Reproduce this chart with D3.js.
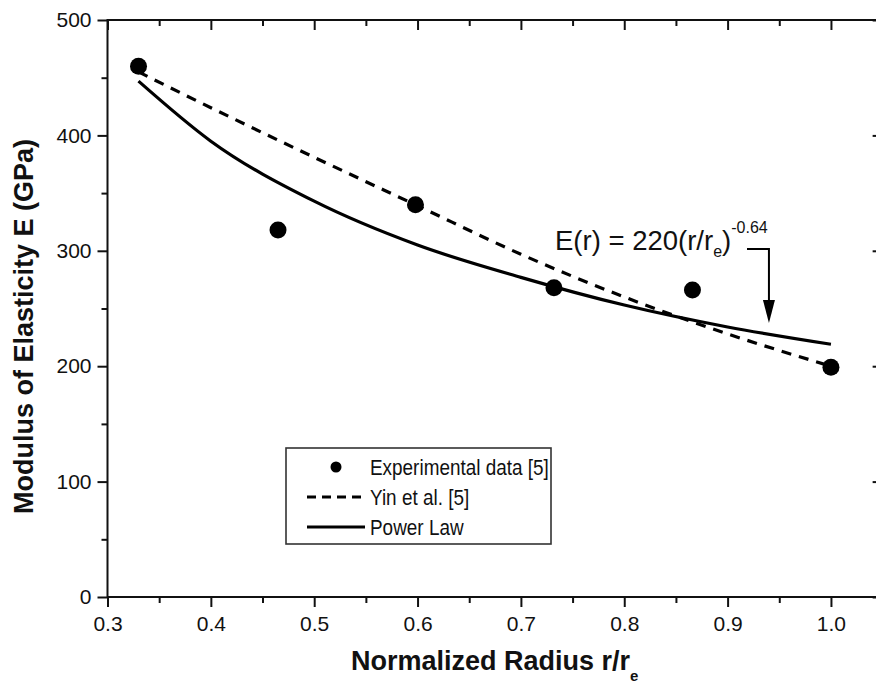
<!DOCTYPE html>
<html>
<head>
<meta charset="utf-8">
<script src="https://cdn.jsdelivr.net/npm/d3@7"></script>
<style>
  html, body { margin: 0; padding: 0; background: #fff; }
  svg { display: block; }
  text { font-family: "Liberation Sans", Arial, sans-serif; fill: #111; }
</style>
</head>
<body>
<script>
// ---- data ----
const expX = [0.33, 0.465, 0.598, 0.732, 0.866, 1.0];
const expE = [460, 318, 340, 268, 266, 199];

const yinX = [0.33, 0.40, 0.50, 0.60, 0.70, 0.80, 0.90, 1.00];
const yinE = [455, 424, 381, 339, 297, 260, 228, 200];

const powX = [0.33, 0.40, 0.50, 0.60, 0.70, 0.80, 0.90, 1.00];
const powE = [447, 395, 343, 305, 277, 253, 234, 219];

const xTicks = [0.3, 0.4, 0.5, 0.6, 0.7, 0.8, 0.9, 1.0];
const yTicks = [0, 100, 200, 300, 400, 500];
const legendLabels = ["Experimental data [5]", "Yin et al. [5]", "Power Law"];

// ---- layout ----
const W = 876, H = 689;
const L = 107.5, T = 20, B = 597;
const x = d3.scaleLinear().domain([0.3, 1.05]).range([L, L + 1033.5 * 0.75]);
const y = d3.scaleLinear().domain([0, 500]).range([B, T]);
const R = x(1.05);

const svg = d3.select("body").append("svg").attr("width", W).attr("height", H);

// frame
svg.append("rect").attr("x", L).attr("y", T).attr("width", R - L).attr("height", B - T)
  .attr("fill", "none").attr("stroke", "#111").attr("stroke-width", 2);

const xMinor = d3.range(0.35, 1.05, 0.1);
const yMinor = d3.range(50, 500, 100);

function fmtX(d) { return d3.format(".1f")(d); }

const gBottom = svg.append("g").attr("transform", `translate(0,${B})`)
  .call(d3.axisBottom(x).tickValues(xTicks).tickFormat(fmtX).tickSize(10).tickPadding(9));
const gBottomMinor = svg.append("g").attr("transform", `translate(0,${B})`)
  .call(d3.axisBottom(x).tickValues(xMinor).tickFormat("").tickSize(6));
const gTop = svg.append("g").attr("transform", `translate(0,${T})`)
  .call(d3.axisBottom(x).tickValues(xTicks).tickFormat("").tickSize(10));
const gTopMinor = svg.append("g").attr("transform", `translate(0,${T})`)
  .call(d3.axisBottom(x).tickValues(xMinor).tickFormat("").tickSize(6));
const gLeft = svg.append("g").attr("transform", `translate(${L},0)`)
  .call(d3.axisLeft(y).tickValues(yTicks).tickSize(10).tickPadding(6));
const gLeftMinor = svg.append("g").attr("transform", `translate(${L},0)`)
  .call(d3.axisLeft(y).tickValues(yMinor).tickFormat("").tickSize(6));
const gRight = svg.append("g").attr("transform", `translate(${R},0)`)
  .call(d3.axisLeft(y).tickValues(yTicks).tickFormat("").tickSize(10));
const gRightMinor = svg.append("g").attr("transform", `translate(${R},0)`)
  .call(d3.axisLeft(y).tickValues(yMinor).tickFormat("").tickSize(6));

[gBottom, gBottomMinor, gTop, gTopMinor, gLeft, gLeftMinor, gRight, gRightMinor].forEach(g => {
  g.select(".domain").remove();
  g.selectAll(".tick line").attr("stroke", "#111").attr("stroke-width", 2);
  g.selectAll(".tick text").attr("fill", "#111").style("font-size", "21px")
    .style("font-family", "'Liberation Sans', Arial, sans-serif");
});

// axis titles
const xt = svg.append("text").attr("x", 351).attr("y", 670)
  .attr("text-anchor", "start").style("font-size", "27px").style("font-weight", "bold");
xt.append("tspan").text("Normalized Radius r/r");
xt.append("tspan").text("e").attr("dy", 11).style("font-size", "15px");

svg.append("text").attr("transform", `translate(33,${(T + B) / 2 + 18}) rotate(-90)`)
  .attr("text-anchor", "middle").style("font-size", "27px").style("font-weight", "bold")
  .text("Modulus of Elasticity E (GPa)");

// lines
const line = d3.line().x(d => x(d[0])).y(d => y(d[1])).curve(d3.curveMonotoneX);
svg.append("path").datum(yinX.map((v, i) => [v, yinE[i]]))
  .attr("d", line).attr("fill", "none").attr("stroke", "#000")
  .attr("stroke-width", 3.2).attr("stroke-dasharray", "10,8");
svg.append("path").datum(powX.map((v, i) => [v, powE[i]]))
  .attr("d", line).attr("fill", "none").attr("stroke", "#000")
  .attr("stroke-width", 3.2);

// points
svg.selectAll("circle.exp").data(expX.map((v, i) => [v, expE[i]])).enter()
  .append("circle").attr("class", "exp")
  .attr("cx", d => x(d[0])).attr("cy", d => y(d[1])).attr("r", 8.5).attr("fill", "#000");

// annotation
const eq = svg.append("text").attr("x", 555).attr("y", 250).style("font-size", "27.5px");
eq.append("tspan").text("E(r) = 220(r/r");
eq.append("tspan").text("e").attr("dy", 7).style("font-size", "16px");
eq.append("tspan").text(")").attr("dy", -7);
eq.append("tspan").text("-0.64").attr("dy", -17).style("font-size", "16px");

const ax = x(0.94);
svg.append("path").attr("d", `M${747},${249} H${ax} V${305}`)
  .attr("fill", "none").attr("stroke", "#000").attr("stroke-width", 2);
svg.append("path").attr("d", `M${ax - 6},${300} L${ax + 6},${300} L${ax},${323} Z`)
  .attr("fill", "#000");

// legend
const lg = svg.append("g");
lg.append("rect").attr("x", 286).attr("y", 448).attr("width", 265).attr("height", 96)
  .attr("fill", "#fff").attr("stroke", "#333").attr("stroke-width", 1.6);
const rows = [467, 497, 527];
lg.append("circle").attr("cx", 336).attr("cy", rows[0]).attr("r", 5.5).attr("fill", "#000");
lg.append("line").attr("x1", 307).attr("x2", 365).attr("y1", rows[1]).attr("y2", rows[1])
  .attr("stroke", "#000").attr("stroke-width", 3.2).attr("stroke-dasharray", "9,6");
lg.append("line").attr("x1", 307).attr("x2", 365).attr("y1", rows[2]).attr("y2", rows[2])
  .attr("stroke", "#000").attr("stroke-width", 3.2);
legendLabels.forEach((t, i) => {
  lg.append("text").attr("transform", `translate(370,${rows[i] + 8}) scale(0.88,1)`)
    .style("font-size", "21.5px").text(t);
});
</script>
</body>
</html>
